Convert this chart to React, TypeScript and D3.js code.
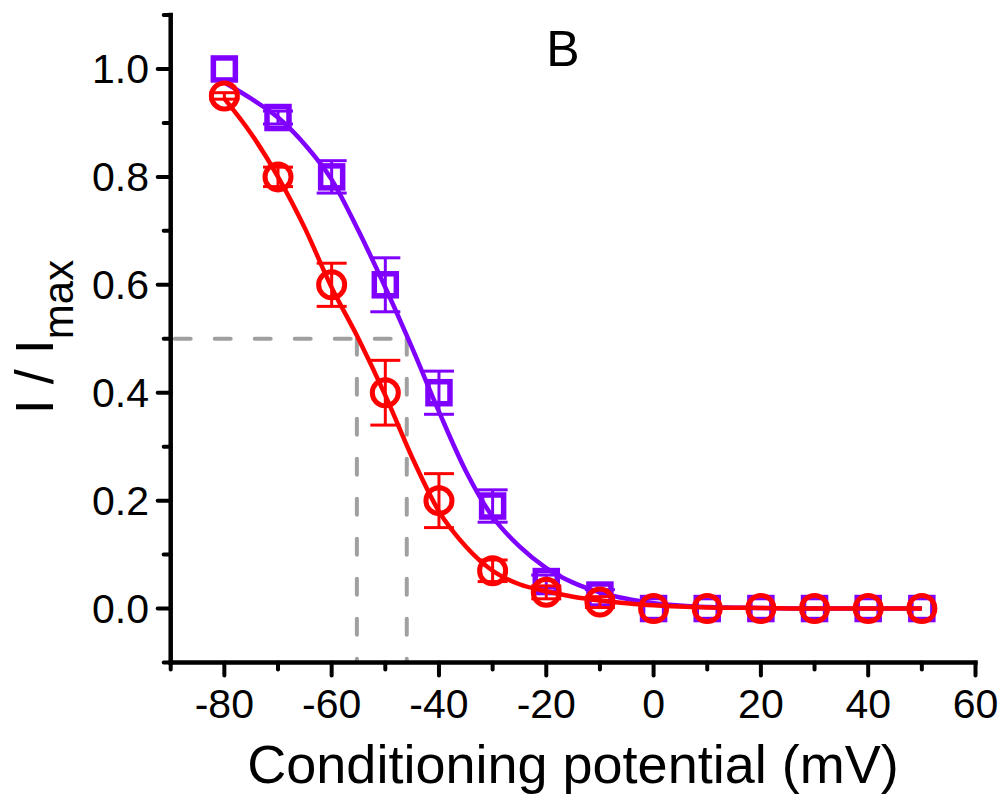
import React from "react";
import * as d3 from "d3";

const potentials = [-80, -70, -60, -50, -40, -30, -20, -10, 0, 10, 20, 30, 40, 50];
const squareValues = [1.0, 0.91, 0.8, 0.6, 0.4, 0.19, 0.05, 0.025, 0, 0, 0, 0, 0, 0];
const squareErrors = [0, 0.012, 0.03, 0.05, 0.04, 0.03, 0.012, 0.01, 0, 0, 0, 0, 0, 0];
const circleValues = [0.95, 0.8, 0.6, 0.4, 0.2, 0.07, 0.03, 0.012, 0, 0, 0, 0, 0, 0];
const circleErrors = [0.006, 0.018, 0.04, 0.06, 0.05, 0.02, 0.012, 0.01, 0, 0, 0, 0, 0, 0];

const fitPotentials = [-80, -75, -70, -65, -60, -55, -50, -45, -40, -35, -30, -25, -20, -15, -10, -5, 0, 10, 20, 30, 40, 50];
const circleFit = [0.945, 0.88, 0.8, 0.705, 0.595, 0.5, 0.395, 0.28, 0.18, 0.115, 0.07, 0.045, 0.032, 0.022, 0.015, 0.01, 0.006, 0.002, 0.001, 0, 0, 0];
const squareFit = [0.975, 0.945, 0.91, 0.86, 0.795, 0.7, 0.595, 0.483, 0.365, 0.255, 0.17, 0.115, 0.075, 0.048, 0.03, 0.018, 0.01, 0.003, 0.001, 0, 0, 0];

const halfLevel = 0.5;
const halfPotentials = [-55.3, -46];

const xMajor = [-80, -60, -40, -20, 0, 20, 40, 60];
const xMinor = [-90, -70, -50, -30, -10, 10, 30, 50];
const yMajor = [0, 0.2, 0.4, 0.6, 0.8, 1.0];
const yMinor = [-0.1, 0.1, 0.3, 0.5, 0.7, 0.9, 1.1];

const PURPLE = "#8000FF";
const RED = "#FF0000";
const GRAY = "#A0A0A0";
const FONT = "'Liberation Sans', Arial, sans-serif";

export default function App() {
  const x = d3.scaleLinear().domain([-90, 60]).range([170.7, 975.5]);
  const y = d3.scaleLinear().domain([-0.1, 1.1]).range([662.5, 15]);

  const line = d3
    .line<number>()
    .x((_, i) => x(fitPotentials[i]))
    .y((d) => y(d))
    .curve(d3.curveMonotoneX);

  const x0 = x(-90);
  const y0 = y(-0.1);

  const errBars = (vals: number[], errs: number[], color: string) =>
    potentials.map((p, i) =>
      errs[i] > 0 ? (
        <g key={`e${i}`} stroke={color} strokeWidth={3}>
          <line x1={x(p)} x2={x(p)} y1={y(vals[i] - errs[i])} y2={y(vals[i] + errs[i])} />
          <line x1={x(p) - 15} x2={x(p) + 15} y1={y(vals[i] - errs[i])} y2={y(vals[i] - errs[i])} />
          <line x1={x(p) - 15} x2={x(p) + 15} y1={y(vals[i] + errs[i])} y2={y(vals[i] + errs[i])} />
        </g>
      ) : null
    );

  return (
    <svg
      width={1000}
      height={796}
      style={{ position: "absolute", left: 0, top: 0, background: "#fff" }}
      fontFamily={FONT}
    >
      {/* dashed guide lines */}
      <g stroke={GRAY} strokeWidth={4} strokeDasharray="16,24" strokeLinecap="round" fill="none">
        <line x1={x0 + 4} x2={x(halfPotentials[1])} y1={y(halfLevel)} y2={y(halfLevel)} />
        {halfPotentials.map((h, i) => (
          <line key={i} x1={x(h)} x2={x(h)} y1={y(halfLevel)} y2={y0 - 2} />
        ))}
      </g>

      {/* purple series */}
      {errBars(squareValues, squareErrors, PURPLE)}
      {potentials.map((p, i) => (
        <rect
          key={`s${i}`}
          x={x(p) - 11}
          y={y(squareValues[i]) - 11}
          width={22}
          height={22}
          fill="none"
          stroke={PURPLE}
          strokeWidth={5.5}
        />
      ))}
      <path d={line(squareFit) || ""} fill="none" stroke={PURPLE} strokeWidth={4.5} />

      {/* red series */}
      {errBars(circleValues, circleErrors, RED)}
      {potentials.map((p, i) => (
        <circle key={`c${i}`} cx={x(p)} cy={y(circleValues[i])} r={13} fill="none" stroke={RED} strokeWidth={5} />
      ))}
      <path d={line(circleFit) || ""} fill="none" stroke={RED} strokeWidth={4.5} />

      {/* axes */}
      <g stroke="#000" strokeWidth={4.5} strokeLinecap="square">
        <line x1={x0} x2={x0} y1={y(1.1)} y2={y0} />
        <line x1={x0} x2={x(60)} y1={y0} y2={y0} />
      </g>
      <g stroke="#000" strokeWidth={4} strokeLinecap="round">
        {xMajor.map((t) => (
          <line key={`xm${t}`} x1={x(t)} x2={x(t)} y1={y0} y2={y0 + 13} />
        ))}
        {xMinor.map((t) => (
          <line key={`xn${t}`} x1={x(t)} x2={x(t)} y1={y0} y2={y0 + 7} />
        ))}
        {yMajor.map((t) => (
          <line key={`ym${t}`} x1={x0} x2={x0 - 13} y1={y(t)} y2={y(t)} />
        ))}
        {yMinor.map((t) => (
          <line key={`yn${t}`} x1={x0} x2={x0 - 7} y1={y(t)} y2={y(t)} />
        ))}
      </g>

      {/* tick labels */}
      <g fontSize={41} fill="#000">
        {xMajor.map((t) => (
          <text key={`xl${t}`} x={x(t)} y={718} textAnchor="middle">
            {t}
          </text>
        ))}
        {yMajor.map((t) => (
          <text key={`yl${t}`} x={149} y={y(t) + 14} textAnchor="end">
            {t.toFixed(1)}
          </text>
        ))}
      </g>

      {/* titles */}
      <text x={573} y={783} fontSize={54} textAnchor="middle" fill="#000">
        Conditioning potential (mV)
      </text>
      <text transform="translate(53,337) rotate(-90)" fontSize={54} textAnchor="middle" fill="#000">
        I / I
        <tspan fontSize={42} dy={20}>
          max
        </tspan>
      </text>
      <text x={563} y={66} fontSize={50} textAnchor="middle" fill="#000">
        B
      </text>
    </svg>
  );
}
